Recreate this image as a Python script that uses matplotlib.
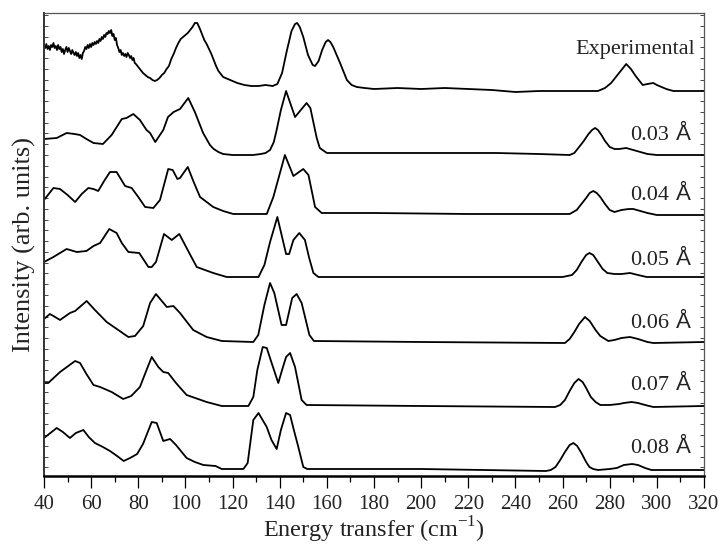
import matplotlib
matplotlib.use("Agg")
import matplotlib.pyplot as plt
from matplotlib.ticker import MultipleLocator
import numpy as np

# ---------------- data ----------------
exp_E = [40, 40.5, 41, 41.5, 42, 42.5, 43, 43.5, 44, 44.5, 45, 45.5, 46, 46.5, 47, 47.5, 48, 48.5,
         49, 49.5, 50, 50.5, 51, 51.5, 52, 52.5, 53, 53.5, 54, 54.5, 55, 55.5, 56, 56.5, 57, 57.5,
         58, 58.5, 59, 59.5, 60, 60.5, 61, 61.5, 62, 62.5, 63, 63.5, 64, 64.5, 65, 65.5, 66, 66.5,
         67, 67.5, 68, 68.5, 69, 69.5, 70, 70.5, 71, 71.5, 72, 72.5, 73, 73.5, 74, 74.5, 75, 75.5,
         76, 76.5, 77, 77.5, 78, 78.5, 79, 80, 81, 82, 83, 84, 85, 86, 87, 88, 89, 90, 91, 92, 93,
         94, 95, 96, 97, 98, 99, 100, 101, 102, 103, 104, 105, 106, 107, 108, 109, 110, 111, 112,
         113, 114, 115, 116, 117, 118, 120, 122, 125, 128, 131, 134, 137, 139, 141, 143, 145, 146.5,
         147.4, 148.5, 150, 152, 154, 155, 156.5, 158, 159.5, 160.5, 161.5, 162.7, 165.6, 168.5,
         170.5, 172.7, 176, 180, 190, 200, 210, 220, 230, 240, 250, 260, 270, 275, 278, 280.6, 284,
         287, 289, 291, 294, 296, 298.5, 300, 302, 304, 307, 320]
exp_I = [46, 43, 47, 42, 45, 41, 46, 44, 48, 43, 45, 41, 46, 42, 44, 39, 42, 37,
         41, 44, 39, 43, 40, 37, 41, 38, 36, 39, 35, 38, 33, 36, 32, 38, 40, 44,
         42, 46, 43, 47, 44, 48, 46, 49, 47, 50, 48, 52, 50, 54, 52, 56, 54, 58,
         57, 60, 58, 61, 55, 57, 51, 53, 46, 43, 39, 41, 36, 38, 35, 37, 34, 38,
         36, 33, 35, 31, 33, 28, 27, 24, 21, 18, 16, 14, 13, 11, 10, 11, 13, 16, 18, 22, 25,
         32, 37, 43, 48, 52, 54, 56, 58, 61, 64, 68, 68, 63, 57, 51, 47, 42, 37, 31,
         25, 20, 17, 14, 13, 12, 10, 8, 6, 5, 5, 6, 5, 7, 18, 40, 60, 67,
         68, 64, 54, 36, 26, 25, 30, 41, 49, 51, 49, 44, 28, 11,
         6, 4, 3, 2, 3, 2, 3, 2, 1, -1, 0, 0, 0, 0, 3, 8, 18,
         27, 22, 15, 6, 7, 8, 6, 4, 2, 0, 0]

e03_E = [40, 45.4, 49.6, 53, 55.3, 58, 61, 65, 68.7, 73, 75, 77.9, 80.7, 83.5, 85, 87.2, 90.6,
         92.6, 95, 97.7, 101.2, 104, 107.5, 110.4, 112, 114, 116, 118, 120, 128.7, 132, 134,
         135.9, 137.5, 138.7, 140.5, 142.7, 146.5, 151.4, 153, 155.7, 157, 160, 180, 200, 232,
         250, 263, 265, 267, 269, 271, 272.5, 273.8, 275, 276.5, 278, 280, 282, 284, 287, 290,
         293, 296, 300, 320]
e03_I = [16, 17, 22, 21, 20, 16, 12, 11, 20, 36, 37, 41, 35, 25, 22, 13, 25,
         38, 43, 46, 57, 43, 22, 10, 6, 3, 1, 0.5, 0, 0, 1, 2,
         5, 13, 25, 45, 64, 38, 52, 47, 17, 7, 2, 2, 2, 2,
         1, 0, 2, 8, 14, 21, 25, 27, 25, 20, 14, 8, 6, 6, 7, 5,
         3, 1, 0, 0]

e04_E = [40, 44, 46.8, 50, 53.2, 56, 58.8, 61, 63, 65.5, 68, 70.8, 74.4, 77.2, 80, 82.9, 86.4,
         89.2, 92.7, 94.6, 96.6, 97.7, 101, 103.5, 106.2, 111.8, 116, 120.3, 134.5, 137.3,
         142.2, 145.8, 150, 152.2, 155, 157.8, 180, 220, 263, 266, 268, 270, 271.5, 273, 274.5,
         276, 278, 280, 282, 285, 288, 290, 293, 296, 300, 320]
e04_I = [15, 27, 26, 20, 13, 21, 27, 26, 24, 34, 43, 43, 29, 27, 18, 8, 7,
         15, 46, 45, 36, 37, 48, 33, 18, 8, 4, 1, 1, 18,
         60, 39, 46, 40, 8, 2, 2, 1, 1, 5, 11, 17, 22, 24, 22,
         18, 11, 5, 3, 5, 6, 6, 4, 2, 0, 0]

e05_E = [40, 44, 49.6, 53.9, 58, 61, 63.8, 67.7, 70.8, 73, 75.8, 80.4, 84.3, 85.7, 87.5, 90.9,
         94.2, 97.4, 100.5, 104.8, 111.8, 117.5, 131, 133.5, 135.9, 139, 142.7, 144, 145.8,
         148.3, 150.7, 152.5, 154.3, 156.4, 200, 260, 264, 266, 268, 270, 271.4, 273, 275, 277,
         279, 282, 285, 288.6, 292, 295.7, 320]
e05_I = [15, 20, 28, 25, 26, 31, 34, 48, 44, 34, 25, 24, 10, 10, 15, 43,
         37, 43, 29, 10, 4, 0, 0, 12, 35, 60, 23, 23, 37,
         44, 37, 19, 4, 0, 0, 0, 2, 7, 15, 22, 24, 22, 15, 8,
         4, 3, 3, 4, 2, 0, 0]

e06_E = [40, 42.5, 44, 46.8, 51, 53.2, 58.1, 61.6, 66.6, 71.5, 75.8, 78.6, 82.1, 85, 87.5,
         92.1, 94.9, 97.7, 103.3, 109, 115.4, 128.8, 130.9, 133.5, 135.9, 137.7, 140.8, 142.7,
         145.3, 147.2, 149.3, 152.6, 154.5, 200, 261, 263, 265, 267, 269.5, 271.5, 274, 276,
         279.4, 282, 285, 288.6, 292, 296, 298.5, 320]
e06_I = [23, 28, 26, 22, 29, 31, 41, 32, 20, 12, 5, 6, 16, 39, 48,
         35, 36, 29, 12, 5, 1, 0, 7, 37, 59, 49, 17, 17,
         44, 48, 39, 7, 1, 0, -1, 3, 10, 18, 25, 21, 12, 6,
         1, 2, 4, 5, 3, 0, -1, 0]

e07_E = [40, 41.8, 46.8, 53.2, 55.3, 58, 61, 63.8, 68.7, 73.6, 77, 80.7, 83.5, 85.7, 88.5,
         90.6, 92.7, 96, 100.5, 109, 115.4, 126.7, 128.8, 130.5, 132.8, 134.5, 137, 139.4, 141,
         142.7, 144.4, 146.5, 149.3, 151.4, 200, 256.8, 259, 261, 263, 265, 266.8, 268.5, 270,
         272, 274, 276, 280, 284, 286, 289.3, 292, 295, 298.5, 320]
e07_I = [23, 23, 34, 45, 43, 32, 21, 19, 14, 7, 10, 19, 36, 49, 39,
         34, 33, 23, 11, 4, 0, 0, 9, 36, 59, 58, 40, 23, 36,
         49, 53, 39, 6, 1, 0, -1, 1, 6, 15, 23, 27, 24, 18,
         9, 4, 1, 1, 2, 3, 4, 3, 1, -1, 0]

e08_E = [40, 45.4, 48, 51, 53.5, 56.7, 59, 61.6, 65, 68, 71, 73.8, 76.5, 79.5, 82, 85.7, 87.8,
         90.6, 93.5, 96, 100.5, 104, 107.6, 112.8, 115.4, 124.6, 126.4, 128.8, 131, 134.5,
         136.5, 138.7, 140.5, 142.7, 144.4, 146, 147.9, 150, 151.7, 200, 253, 255, 257, 259,
         261, 263, 264.6, 266.2, 268, 270, 271.4, 273, 275, 280, 283, 286, 289.5, 292, 295,
         297.7, 320]
e08_I = [32, 42, 38, 32, 37, 40, 33, 27, 23, 19, 14, 9, 12, 16, 26, 48, 47,
         29, 31, 25, 12, 8, 5, 4, 1, 1, 7, 50, 57, 43,
         30, 21, 40, 57, 55, 40, 23, 3, 1, 1, -1, 0, 3, 10,
         18, 25, 27, 24, 17, 8, 3, 1, 0, 1, 2, 5, 6, 5, 2,
         0, 0]

series_E = [exp_E, e03_E, e04_E, e05_E, e06_E, e07_E, e08_E]
series_I = [exp_I, e03_I, e04_I, e05_I, e06_I, e07_I, e08_I]
offsets = [385, 321, 261, 199, 134, 70, 6]
numbers = [None, "0.03", "0.04", "0.05", "0.06", "0.07", "0.08"]
label_y = [422, 336, 276, 211, 148, 86, 23]

xticks = list(range(40, 321, 20))

# ---------------- figure ----------------
SERIF = ["Liberation Serif", "DejaVu Serif"]
SANS = ["Liberation Sans", "DejaVu Sans"]

fig = plt.figure(figsize=(7.2, 5.5), dpi=100)
ax = fig.add_axes([44 / 720, 74 / 550, 660 / 720, 463 / 550])

for E, I, off in zip(series_E, series_I, offsets):
    ax.plot(E, np.asarray(I, dtype=float) + off, color="black", lw=1.3,
            solid_joinstyle="round")

for num, ly in zip(numbers, label_y):
    if num is None:
        ax.text(316.2, ly, "Experimental", family=SERIF, fontsize=16,
                ha="right", va="baseline", color="#222222")
    else:
        ax.text(314.2, ly, "\u00c5", family=SANS, fontsize=16,
                ha="right", va="baseline", color="#222222")
        ax.annotate(num, xy=(314.2, ly), xytext=(-15.5, 0),
                    textcoords="offset points", family=SERIF, fontsize=16,
                    ha="right", va="baseline", color="#222222")

ax.set_xlim(40, 320)
ax.set_ylim(0, 463)

ax.set_xticks(xticks)
ax.xaxis.set_minor_locator(MultipleLocator(10))
ax.tick_params(axis="x", which="major", direction="out", length=8.5, width=0.9,
               pad=5, labelsize=15, top=False)
ax.tick_params(axis="x", which="minor", direction="out", length=4.3, width=0.9, top=False)
for lab in ax.get_xticklabels():
    lab.set_family(SERIF)
    lab.set_color("#222222")

ax.yaxis.set_major_locator(MultipleLocator(10.77, offset=8.7))
ax.tick_params(axis="y", which="major", direction="in", length=2.8, width=0.7,
               left=True, right=True, labelleft=False, color="#444444")

ax.spines["bottom"].set_linewidth(1.8)
ax.spines["left"].set_linewidth(1.4)
ax.spines["left"].set_color("#333333")
ax.spines["top"].set_linewidth(0.9)
ax.spines["top"].set_color("#555555")
ax.spines["right"].set_linewidth(0.9)
ax.spines["right"].set_color("#555555")

ax.set_xlabel("Energy transfer (cm$^{\\mathregular{-1}}$)", family=SERIF, fontsize=17.5,
              labelpad=1, color="#222222")
ax.set_ylabel("Intensity (arb. units)", family=SERIF, fontsize=19, labelpad=6,
              color="#222222")

fig.savefig("out.png", dpi=100)
